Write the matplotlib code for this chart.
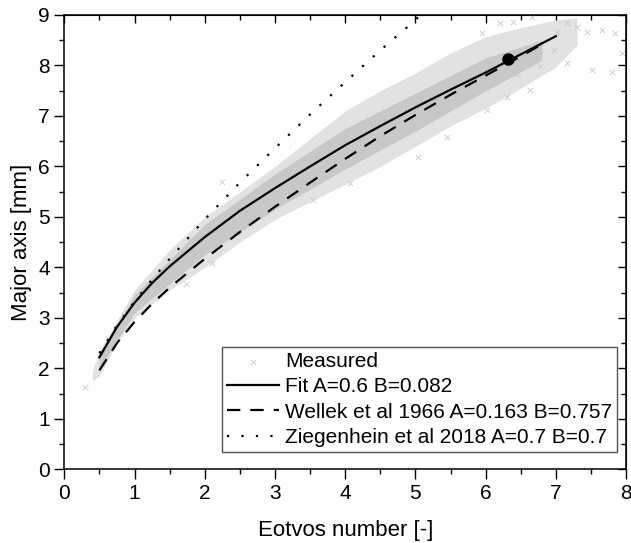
import matplotlib

matplotlib.use("Agg")
import matplotlib.pyplot as plt  # noqa: E402

plt.rcParams["font.family"] = ["Liberation Sans", "DejaVu Sans"]

# fitted / literature correlations
fit_x = [0.5, 0.75, 1.0, 1.25, 1.5, 2.0, 2.5, 3.0, 3.5, 4.0, 4.5, 5.0, 5.5, 6.0, 6.5, 7.0]
fit_y = [2.22, 2.82, 3.3, 3.69, 4.02, 4.6, 5.12, 5.57, 6.0, 6.42, 6.8, 7.17, 7.52, 7.86, 8.22, 8.58]

wellek_x = [0.5, 0.75, 1.0, 1.25, 1.5, 2.0, 2.5, 3.0, 3.5, 4.0, 4.5, 5.0, 5.5, 6.0, 6.5, 6.75]
wellek_y = [1.96, 2.5, 2.92, 3.28, 3.6, 4.17, 4.7, 5.2, 5.68, 6.15, 6.6, 7.02, 7.42, 7.8, 8.18, 8.38]

zieg_x = [0.5, 0.75, 1.0, 1.25, 1.5, 2.0, 2.5, 3.0, 3.5, 4.0, 4.5, 5.0, 5.05]
zieg_y = [2.3, 2.85, 3.32, 3.76, 4.17, 4.95, 5.68, 6.36, 7.03, 7.67, 8.3, 8.9, 8.98]

# measured cloud: outer envelope and dense core
cloud_x = [0.4, 0.5, 0.75, 1.0, 1.5, 2.0, 2.5, 3.0, 3.5, 4.0, 4.5, 5.0, 5.5, 6.0, 6.5, 7.0, 7.3]
cloud_lo = [1.75, 1.85, 2.5, 3.0, 3.55, 4.0, 4.5, 4.95, 5.3, 5.65, 6.0, 6.4, 6.8, 7.15, 7.55, 7.97, 8.4]
cloud_hi = [1.95, 2.35, 2.95, 3.55, 4.35, 5.0, 5.5, 6.0, 6.55, 7.1, 7.5, 7.85, 8.25, 8.57, 8.75, 8.9, 8.95]
core_x = [0.5, 1.0, 2.0, 3.0, 4.0, 5.0, 6.0, 6.8]
core_lo = [2.0, 3.1, 4.25, 5.15, 5.95, 6.7, 7.5, 8.1]
core_hi = [2.25, 3.45, 4.85, 5.85, 6.75, 7.45, 8.15, 8.5]

# scattered single measurements outside the dense band
out_x = [0.3, 1.74, 2.1, 2.24, 3.54, 4.07, 5.04, 5.45, 5.95, 6.02, 6.21, 6.3, 6.39, 6.45,
         6.63, 6.66, 6.78, 6.97, 7.01, 7.16, 7.16, 7.3, 7.44, 7.51, 7.66, 7.8, 7.84, 7.94]
out_y = [1.64, 3.68, 4.08, 5.7, 5.33, 5.67, 6.19, 6.59, 8.64, 7.12, 8.84, 7.38, 8.87, 7.84,
         7.51, 8.96, 7.98, 8.31, 8.67, 8.84, 8.04, 8.77, 8.67, 7.91, 8.7, 7.88, 8.64, 8.24]

dot_x, dot_y = [6.32], [8.12]

fig = plt.figure(figsize=(6.31, 5.43), dpi=100)
ax = fig.add_axes([0.1019, 0.1357, 0.8903, 0.8367])

ax.fill_between(cloud_x, cloud_lo, cloud_hi, color="#e2e2e2", lw=0, zorder=1)
ax.fill_between(core_x, core_lo, core_hi, color="#c8c8c8", lw=0, zorder=1)
ax.scatter(out_x, out_y, marker="x", s=16, lw=0.6, color="#c8c8c8", zorder=1, label="Measured")

ax.plot(fit_x, fit_y, color="black", lw=1.6, zorder=3, label="Fit A=0.6 B=0.082")
ax.plot(wellek_x, wellek_y, color="black", lw=1.6, ls=(0, (6, 4.5)), zorder=3,
        label="Wellek et al 1966 A=0.163 B=0.757")
ax.plot(zieg_x, zieg_y, color="black", lw=1.6, ls=(0, (1, 5.5)), zorder=3,
        label="Ziegenhein et al 2018 A=0.7 B=0.7")
ax.plot(dot_x, dot_y, "o", color="black", ms=8, zorder=4)

ax.set_xlim(0, 8)
ax.set_ylim(0, 9)
ax.set_xticks(range(0, 9))
ax.set_yticks(range(0, 10))
ax.set_xticks([i + 0.5 for i in range(8)], minor=True)
ax.set_yticks([i + 0.5 for i in range(9)], minor=True)
ax.tick_params(which="major", direction="out", length=7, width=1, labelsize=15)
ax.tick_params(which="minor", direction="out", length=3.5, width=1)
for s in ax.spines.values():
    s.set_linewidth(1.1)

top = ax.secondary_xaxis("top")
top.set_xticks(range(0, 9))
top.set_xticks([i + 0.5 for i in range(8)], minor=True)
top.tick_params(which="major", direction="in", length=6, width=1, labeltop=False)
top.tick_params(which="minor", direction="in", length=3.5, width=1)
right = ax.secondary_yaxis("right")
right.set_yticks(range(0, 10))
right.set_yticks([i + 0.5 for i in range(9)], minor=True)
right.tick_params(which="major", direction="in", length=6, width=1, labelright=False)
right.tick_params(which="minor", direction="in", length=3.5, width=1)

ax.set_xlabel("Eotvos number [-]", fontsize=16, labelpad=12)
ax.set_ylabel("Major axis [mm]", fontsize=16, labelpad=4)

ax.legend(loc="lower right", bbox_to_anchor=(0.984, 0.038), fontsize=15, frameon=True,
          fancybox=False, edgecolor="#555555", framealpha=1, borderpad=0.25,
          labelspacing=0.3, handlelength=2.45, handletextpad=0.3, borderaxespad=0,
          markerscale=1.0)

fig.savefig("out.png", dpi=100)
